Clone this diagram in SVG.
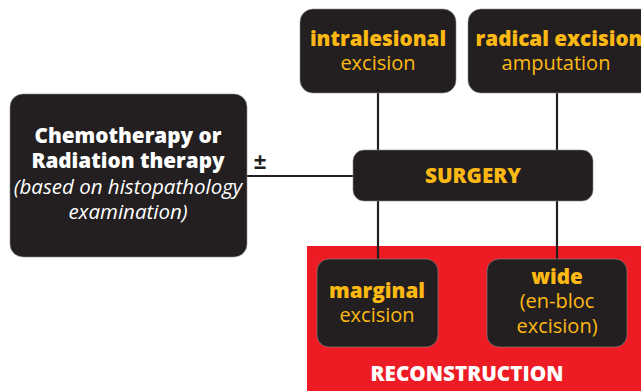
<svg xmlns="http://www.w3.org/2000/svg" width="641" height="391" viewBox="0 0 641 391">
<style>
.box{fill:#231f20;stroke:#8a8a8a;stroke-width:0.6}
.ln{stroke:#231f20;stroke-width:2.2;fill:none}
text{font-family:"Open Sans","Noto Sans","Liberation Sans",sans-serif;text-anchor:middle}
.yb{fill:#fdb913;font-weight:800;font-size:20.7px}
.yn{fill:#fdb913;font-weight:400;font-size:20px}
.wb{fill:#ffffff;font-weight:800;font-size:20.7px}
.wi{fill:#ffffff;font-weight:400;font-style:italic;font-size:20.5px}
</style>
<rect x="0" y="0" width="641" height="391" fill="#ffffff"/>
<rect id="reconstruction-area" x="307" y="246" width="334" height="145" fill="#ed1c24"/>
<g id="connectors">
<line class="ln" x1="378" y1="92" x2="378" y2="151"/>
<line class="ln" x1="557" y1="92" x2="557" y2="151"/>
<line class="ln" x1="378" y1="200" x2="378" y2="260"/>
<line class="ln" x1="557" y1="200" x2="557" y2="260"/>
<line class="ln" x1="246" y1="176" x2="354" y2="176"/>
<text x="260" y="169" style="font-size:22px;font-weight:bold;fill:#231f20;font-family:'Liberation Sans',sans-serif">±</text>
</g>
<g id="chemo">
<rect class="box" x="10" y="94" width="237" height="163" rx="13"/>
<text><tspan class="wb" x="128" y="143">Chemotherapy or</tspan><tspan class="wb" x="128" y="168">Radiation therapy</tspan><tspan class="wi" x="128" y="194">(based on histopathology</tspan><tspan class="wi" x="128" y="219">examination)</tspan></text>
</g>
<g id="intralesional">
<rect class="box" x="300" y="9" width="156" height="84" rx="13"/>
<text><tspan class="yb" x="378" y="46">intralesional</tspan><tspan class="yn" x="378" y="70">excision</tspan></text>
</g>
<g id="radical">
<rect class="box" x="468" y="9" width="185" height="84" rx="13"/>
<text><tspan class="yb" x="559" y="46">radical excision</tspan><tspan class="yn" x="556" y="70">amputation</tspan></text>
</g>
<g id="surgery">
<rect class="box" x="353" y="150" width="240" height="51" rx="11"/>
<text class="yb" x="473" y="183">SURGERY</text>
</g>
<g id="marginal">
<rect class="box" x="317" y="259" width="121" height="88" rx="12"/>
<text><tspan class="yb" x="377" y="298">marginal</tspan><tspan class="yn" x="377" y="322">excision</tspan></text>
</g>
<g id="wide">
<rect class="box" x="487" y="259" width="140" height="88" rx="12"/>
<text><tspan class="yb" x="557" y="284">wide</tspan><tspan class="yn" x="557" y="308">(en-bloc</tspan><tspan class="yn" x="557" y="333">excision)</tspan></text>
</g>
<text class="wb" x="467" y="381">RECONSTRUCTION</text>
</svg>
